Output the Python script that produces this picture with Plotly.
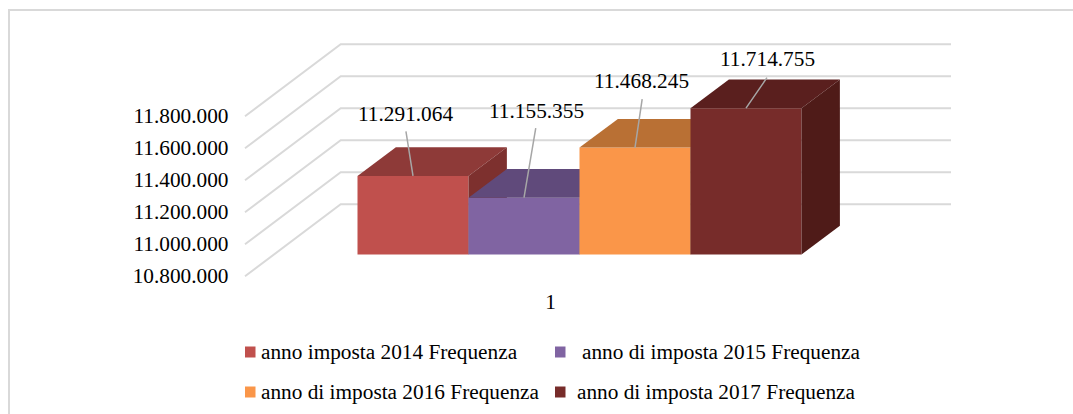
import plotly.graph_objects as go

CATEGORY = ["1"]
SERIES = ["anno imposta 2014 Frequenza", "anno di imposta 2015 Frequenza",
          "anno di imposta 2016 Frequenza", "anno di imposta 2017 Frequenza"]
VALUES = [11291064, 11155355, 11468245, 11714755]
VALUE_LABELS = ["11.291.064", "11.155.355", "11.468.245", "11.714.755"]
TICKS = [10800000, 11000000, 11200000, 11400000, 11600000, 11800000]
TICK_LABELS = ["10.800.000", "11.000.000", "11.200.000", "11.400.000", "11.600.000", "11.800.000"]
FRONT = ["#C0504D", "#8064A2", "#FA9649", "#772C2A"]
TOP = ["#8E3A38", "#604A7B", "#B97034", "#5A1F1E"]
SIDE = ["#7D302E", "#503D66", "#A0602C", "#4F1B18"]

W, H = 1073, 414
FONT = "Liberation Serif"
TEXT_SIZE = 21.3
FLOOR = TICKS[0]
PX_PER_VAL = 160e-6
PX_PER_CAT = 111
X0 = 413          # pixel of category position 0
BAR_BASE_PX = 254.5
AXIS_BASE_PX = 276.3
DX = 38.4 / PX_PER_CAT          # bar depth in category units
DY = 28.7 / PX_PER_VAL          # bar depth in value units
WALL_DY = 72 / PX_PER_VAL
WALL_LEFT, WALL_BACK, WALL_RIGHT = (245 - X0) / PX_PER_CAT, (340.7 - X0) / PX_PER_CAT, (951 - X0) / PX_PER_CAT

x_range = [-X0 / PX_PER_CAT, (W - X0) / PX_PER_CAT]
def y_range(base_px):
    return [FLOOR - (H - base_px) / PX_PER_VAL, FLOOR + base_px / PX_PER_VAL]

fig = go.Figure()

# wall and floor grid lines, on the axis that carries the tick labels
for t in TICKS:
    fig.add_trace(go.Scatter(x=[WALL_LEFT, WALL_BACK, WALL_RIGHT], y=[t, t + WALL_DY, t + WALL_DY],
                             mode="lines", line=dict(color="#D9D9D9", width=2),
                             hoverinfo="skip", showlegend=False))

# one overlaid subplot per series so that later bars paint over earlier ones
for k, (name, v) in enumerate(zip(SERIES, VALUES)):
    xa, ya = f"x{k+2}", f"y{k+2}"
    l, r = k - 0.5, k + 0.5
    fig.add_trace(go.Bar(x=[k], y=[v - FLOOR], base=FLOOR, width=1, name=name,
                         marker=dict(color=FRONT[k], line=dict(width=0)),
                         showlegend=False, xaxis=xa, yaxis=ya))
    fig.add_trace(go.Scatter(x=[l, r, r + DX, l + DX, l], y=[v, v, v + DY, v + DY, v],
                             mode="lines", fill="toself", fillcolor=TOP[k], line=dict(width=0),
                             hoverinfo="skip", showlegend=False, xaxis=xa, yaxis=ya))
    fig.add_trace(go.Scatter(x=[r, r + DX, r + DX, r, r], y=[v, v + DY, FLOOR + DY, FLOOR, v],
                             mode="lines", fill="toself", fillcolor=SIDE[k], line=dict(width=0),
                             hoverinfo="skip", showlegend=False, xaxis=xa, yaxis=ya))

layout = dict(
    width=W, height=H, margin=dict(l=0, r=0, t=0, b=0), autosize=False,
    paper_bgcolor="white", plot_bgcolor="rgba(0,0,0,0)", showlegend=False,
    barmode="overlay",
    font=dict(family=FONT, size=TEXT_SIZE, color="#000000"),
    xaxis=dict(range=x_range, domain=[0, 1], anchor="free", position=1 - 287 / H,
               tickmode="array", tickvals=[1.24], ticktext=CATEGORY,
               showgrid=False, zeroline=False, showline=False, ticks="",
               tickfont=dict(family=FONT, size=TEXT_SIZE)),
    yaxis=dict(range=y_range(AXIS_BASE_PX), domain=[0, 1], anchor="free", position=228.5 / W,
               tickmode="array", tickvals=TICKS, ticktext=TICK_LABELS,
               showgrid=False, zeroline=False, showline=False, ticks="", ticklabelshift=-1,
               tickfont=dict(family=FONT, size=TEXT_SIZE)),
)
for k in range(len(SERIES)):
    layout[f"xaxis{k+2}"] = dict(range=x_range, domain=[0, 1], overlaying="x", anchor=f"y{k+2}", visible=False)
    layout[f"yaxis{k+2}"] = dict(range=y_range(BAR_BASE_PX), domain=[0, 1], overlaying="y", anchor=f"x{k+2}", visible=False)
fig.update_layout(**layout)

# frame: top and left edges only are inside the picture
fig.add_shape(type="rect", xref="paper", yref="paper", x0=9 / W, x1=1.01, y0=-0.1, y1=1 - 10 / H,
              line=dict(color="#D9D9D9", width=2), fillcolor="rgba(0,0,0,0)", layer="below")

# data labels and leader lines: offsets in pixels from the top of each bar
LEADER_END = [(-7.3, -46), (12, -71), (7.4, -50), (22, -32)]
LABEL_POS = [(-8, -62), (12, -87), (6.9, -67), (21, -49)]
for k, v in enumerate(VALUES):
    fig.add_annotation(x=k, y=v, xref=f"x{k+2}", yref=f"y{k+2}", axref="pixel", ayref="pixel",
                       ax=LEADER_END[k][0], ay=LEADER_END[k][1], text="", showarrow=True,
                       arrowhead=0, arrowwidth=1.5, arrowcolor="#A6A6A6", standoff=0)
    fig.add_annotation(x=k, y=v, xref=f"x{k+2}", yref=f"y{k+2}", text=VALUE_LABELS[k], showarrow=False,
                       xshift=LABEL_POS[k][0], yshift=-LABEL_POS[k][1],
                       font=dict(family=FONT, size=TEXT_SIZE, color="#000000"))

# hand-placed legend to keep the reference's irregular columns
LEGEND_POS = [(245, 352, 260), (555, 352, 581), (245, 392, 260), (555, 392, 576)]
for k, (sx, sy, tx) in enumerate(LEGEND_POS):
    fig.add_shape(type="rect", xref="paper", yref="paper", x0=sx / W, x1=(sx + 10.5) / W,
                  y0=1 - (sy + 5.5) / H, y1=1 - (sy - 5.5) / H,
                  fillcolor=FRONT[k], line=dict(width=0))
    fig.add_annotation(xref="paper", yref="paper", x=tx / W, y=1 - sy / H, xanchor="left", yanchor="middle",
                       text=SERIES[k], showarrow=False, xshift=-1.5,
                       font=dict(family=FONT, size=TEXT_SIZE, color="#000000"))

fig.write_html("out.html", config=dict(displayModeBar=False),
               post_script="document.body.style.margin='0';document.body.style.overflow='hidden';")
